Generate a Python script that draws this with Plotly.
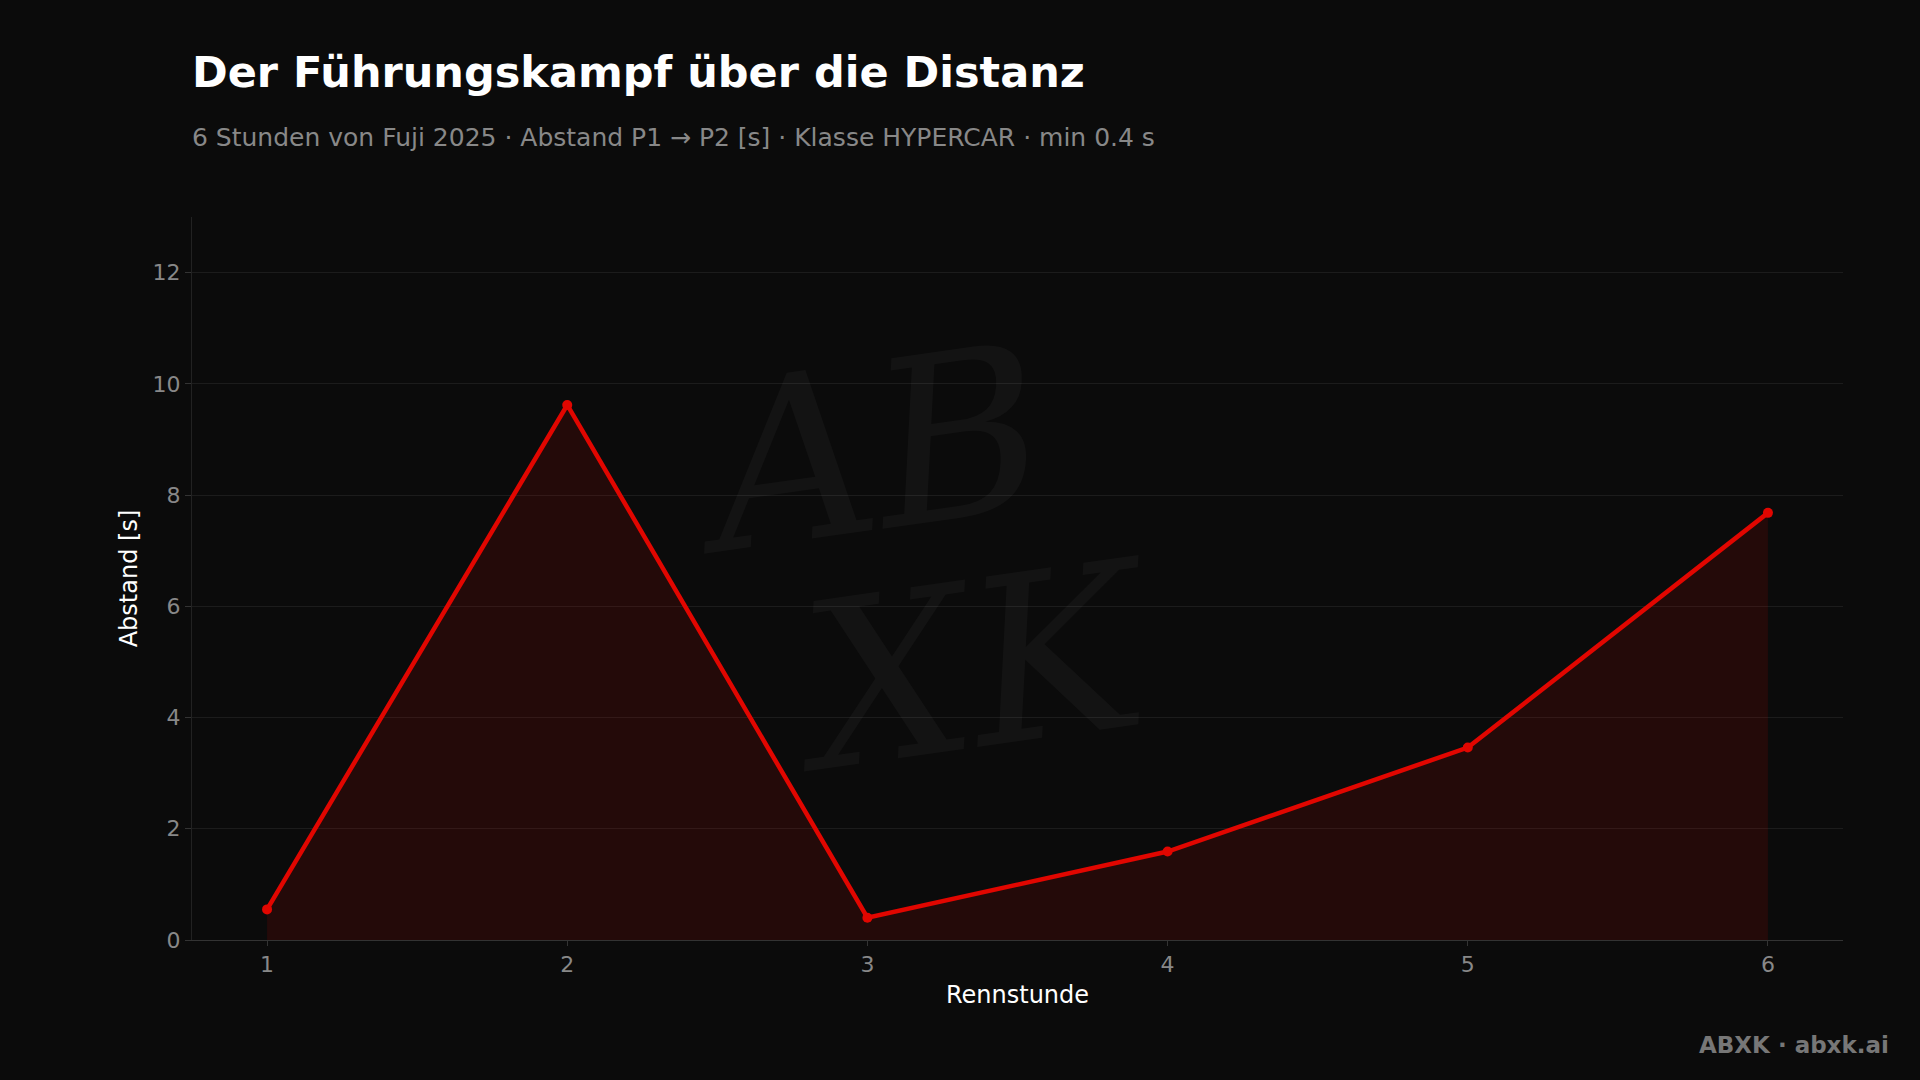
import plotly.graph_objects as go

hours = [1, 2, 3, 4, 5, 6]
gap_s = [0.55, 9.62, 0.40, 1.59, 3.46, 7.68]

title = "Der Führungskampf über die Distanz"
subtitle = "6 Stunden von Fuji 2025 · Abstand P1 → P2 [s] · Klasse HYPERCAR · min 0.4 s"
x_title = "Rennstunde"
y_title = "Abstand [s]"
footer = "ABXK · abxk.ai"

BG = "#0b0b0b"
RED = "#e10600"
FONT = "DejaVu Sans"

fig = go.Figure()
fig.add_trace(go.Scatter(
    x=hours, y=gap_s, mode="lines+markers",
    line=dict(color=RED, width=4.5),
    marker=dict(color=RED, size=10),
    fill="tozeroy", fillcolor="rgba(225,6,0,0.12)",
    showlegend=False, hoverinfo="x+y",
))

WM = "rgba(255,255,255,0.035)"
fig.update_layout(
    width=1920, height=1080,
    paper_bgcolor=BG, plot_bgcolor=BG,
    margin=dict(l=192, r=77, t=217, b=140),
    font=dict(family=FONT, color="#888888", size=22),
    xaxis=dict(
        range=[0.75, 6.25], tickvals=hours, ticktext=[str(h) for h in hours],
        showgrid=False, zeroline=False,
        showline=True, linecolor="#333333", linewidth=1,
        ticks="outside", ticklen=5, tickcolor="#333333",
        tickfont=dict(size=22, color="#888888"),
        title=dict(text=x_title, font=dict(size=24, color="#ffffff"), standoff=9),
    ),
    yaxis=dict(
        range=[0, 13], tickvals=[0, 2, 4, 6, 8, 10, 12],
        showgrid=True, gridcolor="#1c1c1c", gridwidth=1, zeroline=False,
        showline=True, linecolor="#222222", linewidth=1,
        ticks="outside", ticklen=6, tickcolor="#333333",
        tickfont=dict(size=22, color="#888888"),
        title=dict(text=y_title, font=dict(size=24, color="#ffffff"), standoff=8),
    ),
    annotations=[
        dict(text=f"<b>{title}</b>", xref="paper", yref="paper", x=0, y=1,
             xanchor="left", yanchor="middle", showarrow=False,
             xshift=-2, yshift=217 - 72,
             font=dict(size=43, color="#ffffff", family=FONT)),
        dict(text=subtitle, xref="paper", yref="paper", x=0, y=1,
             xanchor="left", yanchor="middle", showarrow=False,
             xshift=-2, yshift=217 - 137,
             font=dict(size=25, color="#888888", family=FONT)),
        dict(text=f"<b>{footer}</b>", xref="paper", yref="paper", x=1, y=0,
             xanchor="right", yanchor="middle", showarrow=False,
             xshift=77 - 29, yshift=-(1045 - 940),
             font=dict(size=23, color="#777777", family=FONT)),
        dict(text="<i>AB</i>", xref="x", yref="y", x=3.0, y=8.8,
             xanchor="center", yanchor="middle", showarrow=False, textangle=-8,
             font=dict(size=230, color=WM, family="DejaVu Serif")),
        dict(text="<i>XK</i>", xref="x", yref="y", x=3.35, y=4.9,
             xanchor="center", yanchor="middle", showarrow=False, textangle=-8,
             font=dict(size=230, color=WM, family="DejaVu Serif")),
    ],
)

fig.write_html("out.html", config={"displayModeBar": False},
               post_script="document.body.style.margin='0';document.body.style.background='#0b0b0b';")
